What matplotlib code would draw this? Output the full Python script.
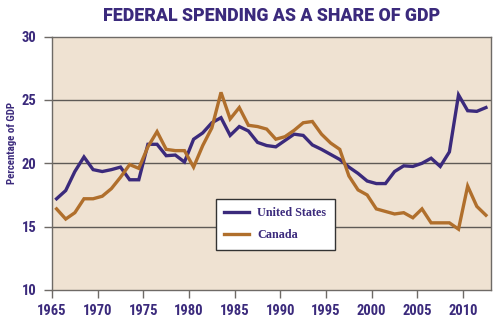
import matplotlib.pyplot as plt
from matplotlib.lines import Line2D

# Gasto federal como % do PIB, anos fiscais 1965-2012
anos = list(range(1965, 2013))
eua = [17.2, 17.85, 19.35, 20.5, 19.5, 19.35, 19.5, 19.7, 18.7, 18.7,
       21.5, 21.5, 20.6, 20.65, 20.1, 21.9, 22.4, 23.2, 23.6, 22.2,
       22.9, 22.55, 21.65, 21.4, 21.3, 21.8, 22.3, 22.2, 21.45, 21.1,
       20.7, 20.3, 19.7, 19.2, 18.6, 18.4, 18.4, 19.35, 19.8, 19.75,
       20.0, 20.4, 19.75, 20.9, 25.4, 24.15, 24.1, 24.4]
canada = [16.4, 15.6, 16.1, 17.2, 17.2, 17.4, 18.0, 18.9, 19.9, 19.6,
          21.3, 22.5, 21.1, 21.0, 21.0, 19.7, 21.4, 22.8, 25.6, 23.5,
          24.4, 23.0, 22.9, 22.7, 21.9, 22.1, 22.6, 23.2, 23.3, 22.3,
          21.6, 21.1, 19.0, 17.9, 17.5, 16.4, 16.2, 16.0, 16.1, 15.7,
          16.4, 15.3, 15.3, 15.3, 14.8, 18.2, 16.6, 15.9]
anos_eixo = [1965, 1970, 1975, 1980, 1985, 1990, 1995, 2000, 2005, 2010]
niveis = [10, 15, 20, 25, 30]

ROXO = "#3b2a7c"
MARROM = "#b06f2c"
FUNDO = "#efe2d2"
ESTREITA = ["Roboto Condensed", "Roboto", "DejaVu Sans"]

fig = plt.figure(figsize=(5, 3.24), dpi=100)
ax = fig.add_axes([0.104, 0.105, 0.877, 0.782])
ax.set_facecolor(FUNDO)

# pontos no meio do ano fiscal
x = [a + 0.5 for a in anos]
ax.plot(x, eua, color=ROXO, linewidth=2.4, solid_joinstyle="miter", zorder=3)
ax.plot(x, canada, color=MARROM, linewidth=2.4, solid_joinstyle="miter", zorder=3)

ax.set_xlim(1965, 2013)
ax.set_ylim(10, 30)
ax.set_xticks(anos_eixo)
ax.set_yticks(niveis)

fonte_eixo = dict(family=ESTREITA, weight="bold", size=10.5)
ax.set_xticklabels([str(a) for a in anos_eixo], color=ROXO, **fonte_eixo)
ax.set_yticklabels([str(n) for n in niveis], color=ROXO, **fonte_eixo)
ax.tick_params(axis="both", direction="out", length=6, width=1, color="#6e6a66")
ax.tick_params(axis="x", pad=4)
ax.tick_params(axis="y", pad=5)

for nivel in [15, 20, 25]:
    ax.axhline(nivel, color="#5e5a56", linewidth=1, zorder=1)
for lado in ax.spines.values():
    lado.set_color("#6e6a66")
    lado.set_linewidth(1)

ax.set_ylabel("Percentage of GDP", color=ROXO, fontsize=7.8, fontweight="bold",
              family=ESTREITA)
ax.yaxis.set_label_coords(-0.080, 0.58)

fig.text(0.544, 0.952, "FEDERAL SPENDING AS A SHARE OF GDP", ha="center", va="center",
         color=ROXO, fontsize=12.8, fontweight="black", family=["Roboto", "DejaVu Sans"])

handles = [Line2D([], [], color=ROXO, linewidth=2.4),
           Line2D([], [], color=MARROM, linewidth=2.4)]
leg = ax.legend(handles, ["United States", "Canada"], loc="upper left",
                bbox_to_anchor=(0.373, 0.359), frameon=True, fancybox=False,
                edgecolor="#333333", facecolor="white", framealpha=1,
                handlelength=2.1, handletextpad=0.66, labelspacing=0.8,
                borderpad=0.7, borderaxespad=0,
                prop=dict(family="Liberation Serif", weight="bold", size=8.7))
leg.get_frame().set_linewidth(1)
for t in leg.get_texts():
    t.set_color(ROXO)
leg.set_zorder(5)

fig.savefig("out.png", dpi=100, facecolor="white")
